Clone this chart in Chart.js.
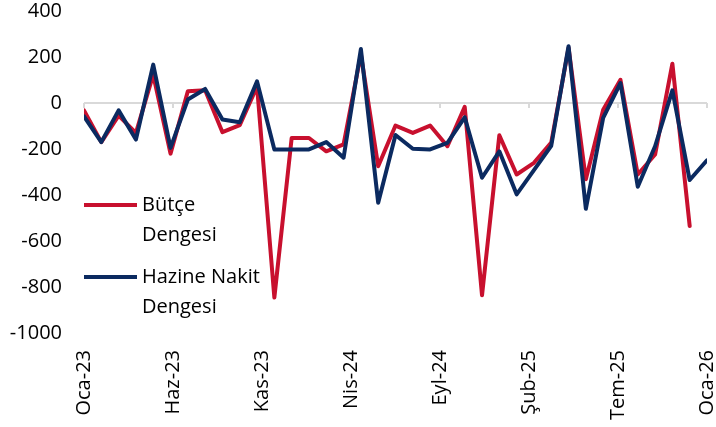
<!DOCTYPE html>
<html>
<head>
<meta charset="utf-8">
<script src="https://cdn.jsdelivr.net/npm/chart.js@4/dist/chart.umd.min.js"></script>
<style>
  html, body { margin: 0; padding: 0; background: #ffffff; }
  #wrap { width: 716px; height: 427px; position: relative; }
</style>
</head>
<body>
<div id="wrap"><canvas id="c" width="716" height="427"></canvas></div>
<script>
// ---- Data ----
const months = [
  'Oca-23','Şub-23','Mar-23','Nis-23','May-23','Haz-23','Tem-23','Ağu-23','Eyl-23','Eki-23','Kas-23','Ara-23',
  'Oca-24','Şub-24','Mar-24','Nis-24','May-24','Haz-24','Tem-24','Ağu-24','Eyl-24','Eki-24','Kas-24','Ara-24',
  'Oca-25','Şub-25','Mar-25','Nis-25','May-25','Haz-25','Tem-25','Ağu-25','Eyl-25','Eki-25','Kas-25','Ara-25',
  'Oca-26'
];
const tickLabels = ['Oca-23','Haz-23','Kas-23','Nis-24','Eyl-24','Şub-25','Tem-25','Oca-26'];
const seriesNames = ['Bütçe Dengesi', 'Hazine Nakit Dengesi'];
const legendLines = [['Bütçe', 'Dengesi'], ['Hazine Nakit', 'Dengesi']];

const butceDengesi = [
  -32, -170, -55, -130, 123, -220, 51, 55, -127, -96, 72, -846,
  -152, -152, -210, -180, 212, -275, -98, -130, -98, -188, -17, -836,
  -140, -311, -260, -172, 240, -332, -29, 101, -311, -224, 171, -535
];
const hazineNakitDengesi = [
  -58, -170, -32, -159, 167, -195, 15, 61, -72, -84, 94, -202,
  -202, -202, -170, -238, 235, -434, -139, -199, -202, -173, -62, -325,
  -210, -397, -292, -186, 247, -460, -65, 87, -364, -188, 55, -335,
  -249
];
const yTicks = { min: -1000, max: 400, step: 200 };

// ---- Styles ----
const RED = '#C8102E';
const NAVY = '#0B2A60';
const GRID = '#D9D9D9';
const FONT = '"Open Sans", "Noto Sans", sans-serif';

const toPoints = arr => arr.map((v, i) => ({ x: i, y: v }));

// Small tick marks on the zero line (category axis crossing at 0)
const zeroTicks = {
  id: 'zeroTicks',
  beforeDatasetsDraw(chart) {
    const xs = chart.scales.x, ys = chart.scales.y;
    const y0 = ys.getPixelForValue(0);
    const ctx = chart.ctx;
    ctx.save();
    ctx.strokeStyle = GRID;
    ctx.lineWidth = 2;
    xs.ticks.forEach(t => {
      const px = Math.round(xs.getPixelForValue(t.value));
      ctx.beginPath();
      ctx.moveTo(px, y0);
      ctx.lineTo(px, y0 + 5);
      ctx.stroke();
    });
    ctx.restore();
  }
};

// Custom legend with wrapped labels, placed inside plot area at left
const wrapLegend = {
  id: 'wrapLegend',
  afterDraw(chart) {
    const ctx = chart.ctx;
    const ca = chart.chartArea;
    const x0 = ca.left, x1 = ca.left + 53, tx = ca.left + 58;
    const rows = [205, 277];
    const lh = 30;
    ctx.save();
    ctx.font = '20px ' + FONT;
    ctx.textBaseline = 'middle';
    ctx.textAlign = 'left';
    chart.data.datasets.forEach((ds) => {
      const k = seriesNames.indexOf(ds.label);
      const y = rows[k];
      ctx.strokeStyle = ds.borderColor;
      ctx.lineWidth = 4;
      ctx.beginPath();
      ctx.moveTo(x0, y);
      ctx.lineTo(x1, y);
      ctx.stroke();
      ctx.fillStyle = '#000000';
      legendLines[k].forEach((line, j) => ctx.fillText(line, tx, y + j * lh));
    });
    ctx.restore();
  }
};

new Chart(document.getElementById('c'), {
  type: 'line',
  data: {
    datasets: [
      { label: seriesNames[0], data: toPoints(butceDengesi), borderColor: RED, backgroundColor: RED,
        borderWidth: 4, pointRadius: 0, tension: 0, order: 2, borderJoinStyle: 'round', borderCapStyle: 'round' },
      { label: seriesNames[1], data: toPoints(hazineNakitDengesi), borderColor: NAVY, backgroundColor: NAVY,
        borderWidth: 4, pointRadius: 0, tension: 0, order: 1, borderJoinStyle: 'round', borderCapStyle: 'round' }
    ]
  },
  options: {
    responsive: false,
    animation: false,
    devicePixelRatio: 1,
    layout: { padding: { top: 11, right: 9, bottom: 0, left: 0 } },
    plugins: { legend: { display: false }, tooltip: { enabled: false } },
    scales: {
      x: {
        type: 'linear',
        min: 0,
        max: months.length - 1,
        afterBuildTicks(scale) {
          const n = tickLabels.length - 1;
          scale.ticks = tickLabels.map((_, k) => ({ value: k * (months.length - 1) / n }));
        },
        afterFit(scale) {
          scale.height = 94;
          scale.paddingLeft = 0; scale.paddingRight = 0;
          scale.paddingTop = 0; scale.paddingBottom = 0;
        },
        grid: { display: false, drawTicks: false },
        border: { display: false },
        ticks: {
          autoSkip: false,
          maxRotation: 90,
          minRotation: 90,
          padding: 17,
          color: '#000000',
          font: { family: FONT, size: 20 },
          callback: (v, i) => tickLabels[i]
        }
      },
      y: {
        min: yTicks.min,
        max: yTicks.max,
        afterFit(scale) {
          scale.width = 84;
          scale.paddingTop = 0; scale.paddingBottom = 0;
          scale.paddingLeft = 0; scale.paddingRight = 0;
        },
        grid: {
          drawTicks: false,
          color: c => (c.tick && c.tick.value === 0 ? GRID : 'rgba(0,0,0,0)'),
          lineWidth: 2
        },
        border: { display: false },
        ticks: {
          stepSize: yTicks.step,
          padding: 22,
          color: '#000000',
          font: { family: FONT, size: 20 },
          callback: v => String(v)
        }
      }
    }
  },
  plugins: [zeroTicks, wrapLegend]
});
</script>
</body>
</html>
